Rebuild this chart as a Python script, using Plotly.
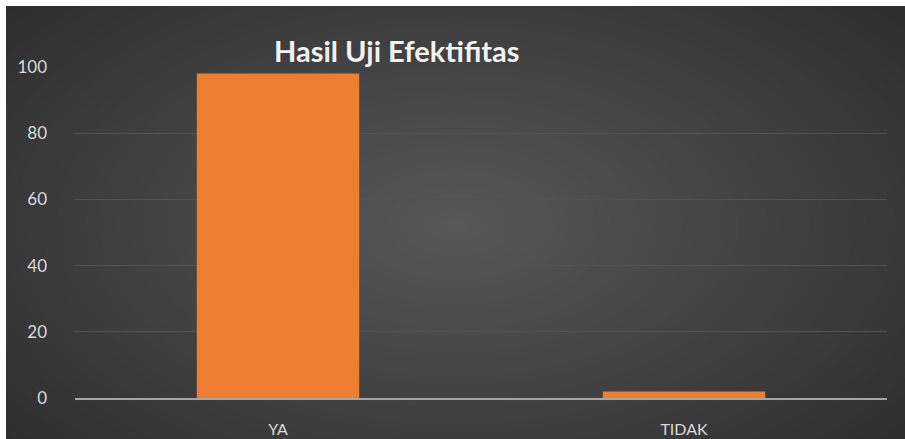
import plotly.graph_objects as go

categories = ["YA", "TIDAK"]
values = [98, 2]
y_ticks = [0, 20, 40, 60, 80, 100]

W, H = 905, 439
L, R, T, B = 75, 18, 67, 41
PW, PH = W - L - R, H - T - B

def px(x):
    return (x - L) / PW

def py(y):
    return (H - B - y) / PH

shapes = []
shapes.append(dict(type="rect", xref="paper", yref="paper", x0=px(0), x1=px(W), y0=py(H), y1=py(0),
                   fillcolor="#2a2a2a", line=dict(width=0), layer="below"))
N = 45
cx, cy = 455, 225
c0, c1 = (0x2a, 0x2a, 0x2a), (0x57, 0x57, 0x57)
for i in range(N):
    s = 1 - i / N
    t = (i + 1) / N
    col = tuple(round(c0[k] + (c1[k] - c0[k]) * t) for k in range(3))
    rx, ry = 640 * s, 360 * s
    shapes.append(dict(type="circle", xref="paper", yref="paper",
                       x0=px(cx - rx), x1=px(cx + rx), y0=py(cy + ry), y1=py(cy - ry),
                       fillcolor="rgb(%d,%d,%d)" % col, line=dict(width=0), layer="below"))
shapes.append(dict(type="rect", xref="paper", yref="paper", x0=px(-5), x1=px(W + 5), y0=py(6), y1=py(-5),
                   fillcolor="white", line=dict(width=0), layer="below"))
shapes.append(dict(type="rect", xref="paper", yref="paper", x0=px(-5), x1=px(6), y0=py(H + 5), y1=py(-5),
                   fillcolor="white", line=dict(width=0), layer="below"))

fig = go.Figure(go.Bar(
    x=categories, y=values,
    marker=dict(color="#ED7D31", line=dict(width=0)),
    width=0.4,
))

fig.update_layout(
    width=W, height=H,
    margin=dict(l=L, r=R, t=T, b=B, autoexpand=False),
    paper_bgcolor="white",
    plot_bgcolor="rgba(0,0,0,0)",
    shapes=shapes,
    showlegend=False,
    font=dict(family="Lato, Open Sans, sans-serif", color="#d9d9d9", size=16),
    annotations=[dict(text="<b>Hasil Uji Efektifitas</b>", xref="paper", yref="paper",
                      x=px(397), y=py(50), xanchor="center", yanchor="middle", showarrow=False,
                      font=dict(family="Lato, sans-serif", size=29, color="#f2f2f2"))],
)
fig.update_yaxes(range=[0, 100], tickvals=y_ticks, showgrid=True, gridcolor="#525252", gridwidth=1,
                 zeroline=False, showline=False, ticks="", tickfont=dict(size=17, color="#d9d9d9"),
                 ticklabelstandoff=27, automargin=False, fixedrange=True)
fig.update_xaxes(showgrid=False, showline=True, linecolor="#a6a6a6", linewidth=2, ticks="",
                 tickfont=dict(size=16, color="#d9d9d9"), ticklabelstandoff=16, automargin=False,
                 fixedrange=True)

fig.write_html("out.html", config={"displayModeBar": False},
               post_script="document.body.style.margin='0';document.body.style.padding='0';")
